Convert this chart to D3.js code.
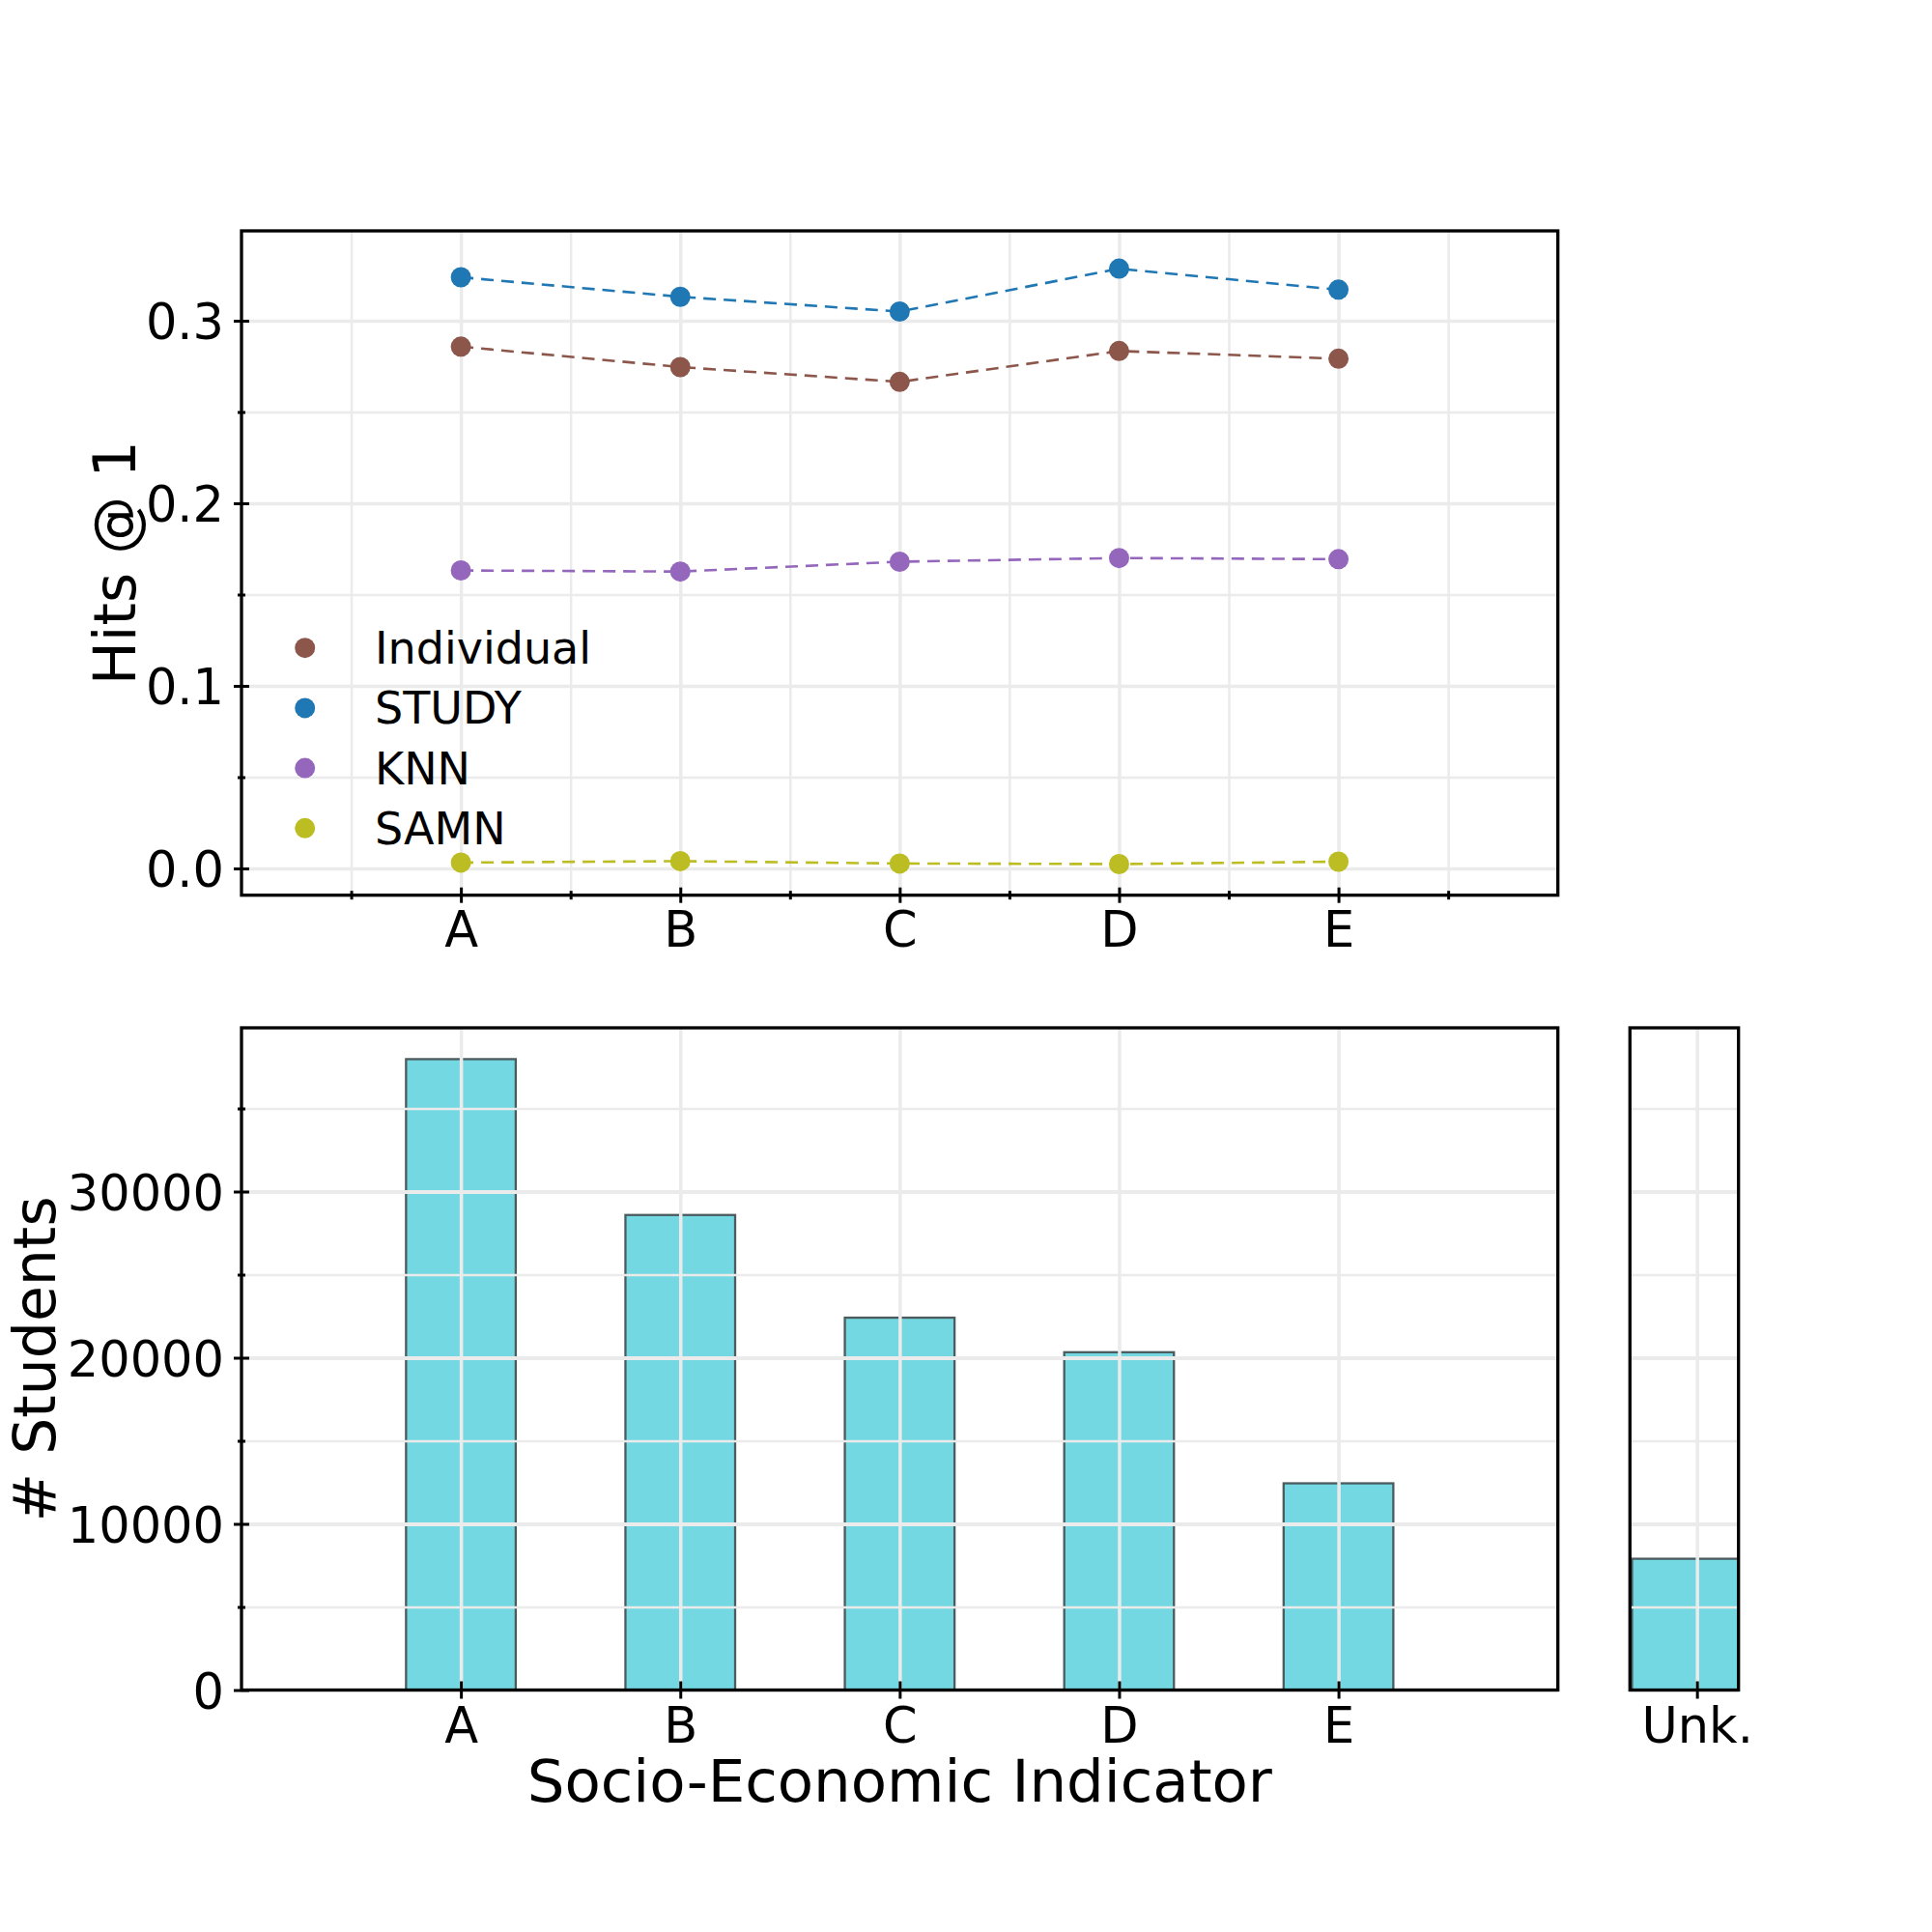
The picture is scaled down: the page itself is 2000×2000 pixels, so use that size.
<!DOCTYPE html>
<html>
<head>
<meta charset="utf-8">
<script src="https://cdn.jsdelivr.net/npm/d3@7"></script>
<style>
  body { margin: 0; background: #fff; }
  text { font-family: "DejaVu Sans", sans-serif; fill: #000; }
</style>
</head>
<body>
<script>
// categories and values
const categories = ['A', 'B', 'C', 'D', 'E'];
const seriesNames = ['Individual', 'STUDY', 'KNN', 'SAMN'];
const seriesColors = ['#8c564b', '#1f77b4', '#9467bd', '#bcbd22'];
const individual = [0.2858, 0.2746, 0.2665, 0.2834, 0.2792];
const study = [0.3238, 0.3131, 0.3050, 0.3285, 0.3170];
const knn = [0.1632, 0.1626, 0.1680, 0.1700, 0.1694];
const samn = [0.0032, 0.0040, 0.0027, 0.0024, 0.0037];
const students = [37970, 28590, 22410, 20330, 12440];
const unkLabel = ['Unk.'];
const unkStudents = [7900];
const hitsTicks = [0.0, 0.1, 0.2, 0.3];
const hitsMinor = [0.05, 0.15, 0.25];
const studentTicks = [0, 10000, 20000, 30000];
const studentMinor = [5000, 15000, 25000, 35000];

const W = 2000, H = 2000;
const svg = d3.select('body').append('svg')
    .attr('width', W).attr('height', H);
svg.append('rect').attr('width', W).attr('height', H).attr('fill', '#fff');

const gridColor = '#ebebeb';
const tickFont = 51;
const dotR = 10.5;

// panel boxes
const topBox = {l: 250, r: 1612.7, t: 239, b: 926.7};
const botBox = {l: 250, r: 1612.7, t: 1064, b: 1749.5};
const unkBox = {l: 1687.3, r: 1799.7, t: 1064, b: 1749.5};

const xTop = d3.scaleLinear().domain([-1, 5]).range([topBox.l, topBox.r]);
const yTop = d3.scaleLinear().domain([-0.01466, 0.3492]).range([topBox.b, topBox.t]);
const xBot = d3.scaleLinear().domain([-1, 5]).range([botBox.l, botBox.r]);
const yBot = d3.scaleLinear().domain([0, 39855]).range([botBox.b, botBox.t]);
const xUnk = d3.scaleLinear().domain([-0.258, 0.16]).range([unkBox.l, unkBox.r]);

function vGrid(x, box, values, width) {
    const g = svg.append('g').attr('transform', `translate(0,${box.b})`)
        .call(d3.axisBottom(x).tickValues(values).tickSize(-(box.b - box.t)).tickFormat(''));
    g.select('.domain').remove();
    g.selectAll('.tick line').attr('stroke', gridColor).attr('stroke-width', width);
}
function hGrid(y, box, values, width) {
    const g = svg.append('g').attr('transform', `translate(${box.l},0)`)
        .call(d3.axisLeft(y).tickValues(values).tickSize(-(box.r - box.l)).tickFormat(''));
    g.select('.domain').remove();
    g.selectAll('.tick line').attr('stroke', gridColor).attr('stroke-width', width);
}

// in-out tick marks
function yTicks(y, box, values, half, labels) {
    const g = svg.append('g').attr('transform', `translate(${box.l},0)`)
        .call(d3.axisLeft(y).tickValues(values).tickSize(0)
            .tickFormat(labels ? labels : ''));
    g.select('.domain').remove();
    g.selectAll('.tick').append('line')
        .attr('x1', -half).attr('x2', half)
        .attr('stroke', '#000').attr('stroke-width', 3);
    g.selectAll('.tick text')
        .attr('x', -18).attr('dy', null).attr('y', 19)
        .attr('text-anchor', 'end')
        .style('font-size', tickFont + 'px')
        .style('font-family', '"DejaVu Sans", sans-serif');
}
function xTicks(x, box, values, half, labels, baselineOffset) {
    const g = svg.append('g').attr('transform', `translate(0,${box.b})`)
        .call(d3.axisBottom(x).tickValues(values).tickSize(0)
            .tickFormat(labels ? ((d, i) => labels[i]) : ''));
    g.select('.domain').remove();
    g.selectAll('.tick').append('line')
        .attr('y1', -half).attr('y2', half)
        .attr('stroke', '#000').attr('stroke-width', 3);
    g.selectAll('.tick text')
        .attr('y', baselineOffset).attr('dy', null)
        .attr('text-anchor', 'middle')
        .style('font-size', tickFont + 'px')
        .style('font-family', '"DejaVu Sans", sans-serif');
}
function frame(box) {
    svg.append('rect')
        .attr('x', box.l).attr('y', box.t)
        .attr('width', box.r - box.l).attr('height', box.b - box.t)
        .attr('fill', 'none').attr('stroke', '#000').attr('stroke-width', 3.3);
}

// ---------- top panel: Hits@1 lines ----------
const idx = d3.range(categories.length);
vGrid(xTop, topBox, [-0.5, 0.5, 1.5, 2.5, 3.5, 4.5], 2.5);
vGrid(xTop, topBox, idx, 3.5);
hGrid(yTop, topBox, hitsMinor, 2.5);
hGrid(yTop, topBox, hitsTicks, 3.5);

const allSeries = [individual, study, knn, samn];
const line = d3.line().x((d, i) => xTop(i)).y(d => yTop(d));
allSeries.forEach((vals, s) => {
    svg.append('path').datum(vals)
        .attr('d', line)
        .attr('fill', 'none')
        .attr('stroke', seriesColors[s])
        .attr('stroke-width', 2.6)
        .attr('stroke-dasharray', '13,8');
    svg.append('g').selectAll('circle').data(vals).join('circle')
        .attr('cx', (d, i) => xTop(i))
        .attr('cy', d => yTop(d))
        .attr('r', dotR)
        .attr('fill', seriesColors[s]);
});

// legend
const legend = svg.append('g');
seriesNames.forEach((name, i) => {
    const cy = 670.7 + i * 62.2;
    legend.append('circle').attr('cx', 315.7).attr('cy', cy).attr('r', dotR)
        .attr('fill', seriesColors[i]);
    legend.append('text').attr('x', 388).attr('y', cy + 16.5)
        .style('font-size', '46px').text(name);
});

yTicks(yTop, topBox, hitsMinor, 4, null);
yTicks(yTop, topBox, hitsTicks, 8, d3.format('.1f'));
xTicks(xTop, topBox, [-0.5, 0.5, 1.5, 2.5, 3.5, 4.5], 4.5, null, 0);
xTicks(xTop, topBox, idx, 8, categories, 53);
frame(topBox);

svg.append('text')
    .attr('transform', `translate(140,${(topBox.t + topBox.b) / 2}) rotate(-90)`)
    .attr('text-anchor', 'middle')
    .style('font-size', '60px')
    .text('Hits @ 1');

// ---------- bottom panel: student counts ----------
const barW = 0.5;
const barFill = '#74d8e2', barEdge = '#4b5b5e';
svg.append('g').selectAll('rect').data(students).join('rect')
    .attr('x', (d, i) => xBot(i - barW / 2))
    .attr('width', (d, i) => xBot(i + barW / 2) - xBot(i - barW / 2))
    .attr('y', d => yBot(d))
    .attr('height', d => yBot(0) - yBot(d))
    .attr('fill', barFill)
    .attr('stroke', barEdge)
    .attr('stroke-width', 2.3);

vGrid(xBot, botBox, idx, 3.5);
hGrid(yBot, botBox, studentMinor, 2.3);
hGrid(yBot, botBox, studentTicks, 3.8);
yTicks(yBot, botBox, studentMinor, 4, null);
yTicks(yBot, botBox, studentTicks, 8, d3.format('d'));
xTicks(xBot, botBox, idx, 9, categories, 54);
frame(botBox);

svg.append('text')
    .attr('transform', `translate(57,${(botBox.t + botBox.b) / 2}) rotate(-90)`)
    .attr('text-anchor', 'middle')
    .style('font-size', '60px')
    .text('# Students');

svg.append('text')
    .attr('x', (botBox.l + botBox.r) / 2).attr('y', 1865)
    .attr('text-anchor', 'middle')
    .style('font-size', '61px')
    .text('Socio-Economic Indicator');

// ---------- unknown panel ----------
svg.append('clipPath').attr('id', 'unkClip').append('rect')
    .attr('x', unkBox.l).attr('y', unkBox.t)
    .attr('width', unkBox.r - unkBox.l).attr('height', unkBox.b - unkBox.t);
svg.append('g').attr('clip-path', 'url(#unkClip)')
    .selectAll('rect').data(unkStudents).join('rect')
    .attr('x', xUnk(-barW / 2))
    .attr('width', xUnk(barW / 2) - xUnk(-barW / 2))
    .attr('y', d => yBot(d))
    .attr('height', d => yBot(0) - yBot(d))
    .attr('fill', barFill)
    .attr('stroke', barEdge)
    .attr('stroke-width', 2.3);

vGrid(xUnk, unkBox, [0], 3.5);
hGrid(yBot, unkBox, studentMinor, 2.3);
hGrid(yBot, unkBox, studentTicks, 3.8);
xTicks(xUnk, unkBox, [0], 9, unkLabel, 54);
frame(unkBox);
</script>
</body>
</html>
